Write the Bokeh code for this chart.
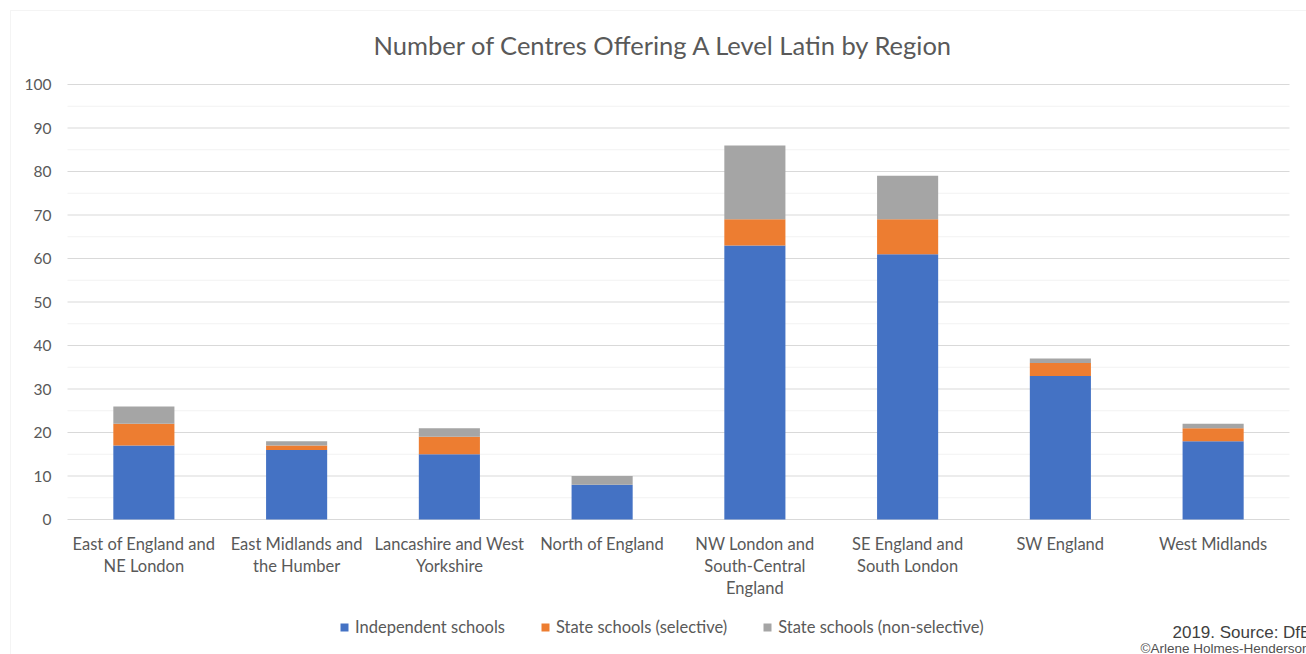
from bokeh.plotting import figure
from bokeh.models import Range1d, Legend, LegendItem, Label, BoxAnnotation
from bokeh.core.properties import value
from bokeh.embed import file_html
from bokeh.resources import INLINE

regions = ["East of England and NE London", "East Midlands and the Humber",
           "Lancashire and West Yorkshire", "North of England",
           "NW London and South-Central England", "SE England and South London",
           "SW England", "West Midlands"]
label_line1 = ["East of England and", "East Midlands and", "Lancashire and West", "North of England",
               "NW London and", "SE England and", "SW England", "West Midlands"]
label_line2 = ["NE London", "the Humber", "Yorkshire", "", "South-Central", "South London", "", ""]
label_line3 = ["", "", "", "", "England", "", "", ""]
independent = [17, 16, 15, 8, 63, 61, 33, 18]
selective = [5, 1, 4, 0, 6, 8, 3, 3]
nonselective = [4, 1, 2, 2, 17, 10, 1, 1]
series_names = ["Independent schools", "State schools (selective)", "State schools (non-selective)"]
colors = ["#4472C4", "#ED7D31", "#A5A5A5"]
y_ticks = [0, 10, 20, 30, 40, 50, 60, 70, 80, 90, 100]
y_minor = [5, 15, 25, 35, 45, 55, 65, 75, 85, 95]
y_tick_labels = [str(t) for t in y_ticks]

TITLE = "Number of Centres Offering A Level Latin by Region"
TXT = "#595959"
FONT = "Lato"

n = len(regions)
xpos = list(range(n))
W, H = 1306, 654
LEFT, TOP, PLOT_R, BASE = 67, 84, 1289, 519      # plot-area left/top, grid right end, y=0 pixel
slot = (PLOT_R - LEFT) / n
ppu = (BASE - TOP) / y_ticks[-1]

p = figure(x_range=Range1d(-0.5 - LEFT / slot, n - 0.5 + (W - PLOT_R) / slot),
           y_range=Range1d(-(H - BASE) / ppu, y_ticks[-1] + TOP / ppu),
           width=W, height=H, output_backend="svg", toolbar_location=None,
           min_border=0)
p.outline_line_color = None
p.grid.visible = False
p.axis.visible = False

# chart-area border (left and top edges visible)
p.add_layout(BoxAnnotation(left=10, right=W + 20, top=10, bottom=H + 20,
                           left_units="canvas", right_units="canvas",
                           top_units="canvas", bottom_units="canvas",
                           fill_alpha=0, line_color="#d9d9d9", line_width=1))

# gridlines
p.segment(x0=-0.5, x1=n - 0.5, y0=y_minor, y1=y_minor, line_color="#f2f2f2", line_width=1)
p.segment(x0=-0.5, x1=n - 0.5, y0=y_ticks, y1=y_ticks, line_color="#d9d9d9", line_width=1)

# y tick labels
p.text(x=[-0.5] * len(y_ticks), y=y_ticks, text=y_tick_labels, x_offset=-16,
       text_align="right", text_baseline="middle", text_font=value(FONT),
       text_font_size="15.5px", text_color=TXT)

data = {"x": xpos, "region": regions, "ind": independent, "sel": selective, "non": nonselective}
rs = p.vbar_stack(["ind", "sel", "non"], x="x", width=0.4, color=colors, source=data,
                  line_color=None)

# category labels under the baseline
for lines, off in ((label_line1, 24), (label_line2, 46), (label_line3, 68)):
    p.text(x=xpos, y=[0] * n, text=lines, y_offset=off, text_align="center",
           text_baseline="middle", text_font=value(FONT), text_font_size="16.5px",
           text_color=TXT)

p.add_layout(Label(x=373, y=44, x_units="canvas", y_units="canvas", text=TITLE,
                   text_font=FONT, text_font_size="25.5px", text_color=TXT,
                   text_baseline="middle"))

legend = Legend(items=[LegendItem(label=s, renderers=[r]) for s, r in zip(series_names, rs)],
                orientation="horizontal", location=(339, 17),
                label_text_font=FONT, label_text_font_size="16.5px", label_text_color=TXT,
                glyph_width=10, glyph_height=10, spacing=35, border_line_color=None,
                background_fill_alpha=0, margin=0, padding=4, label_standoff=6)
p.add_layout(legend, "center")

p.add_layout(Label(x=1172, y=632, x_units="canvas", y_units="canvas", text="2019. Source: DfE",
                   text_font="Liberation Sans", text_font_size="17px", text_color="#404040",
                   text_baseline="middle"))
p.add_layout(Label(x=1140, y=648, x_units="canvas", y_units="canvas", text="\u00a9Arlene Holmes-Henderson",
                   text_font="Liberation Sans", text_font_size="13.5px", text_color="#505050",
                   text_baseline="middle"))

open("out.html", "w").write(file_html(p, INLINE))
